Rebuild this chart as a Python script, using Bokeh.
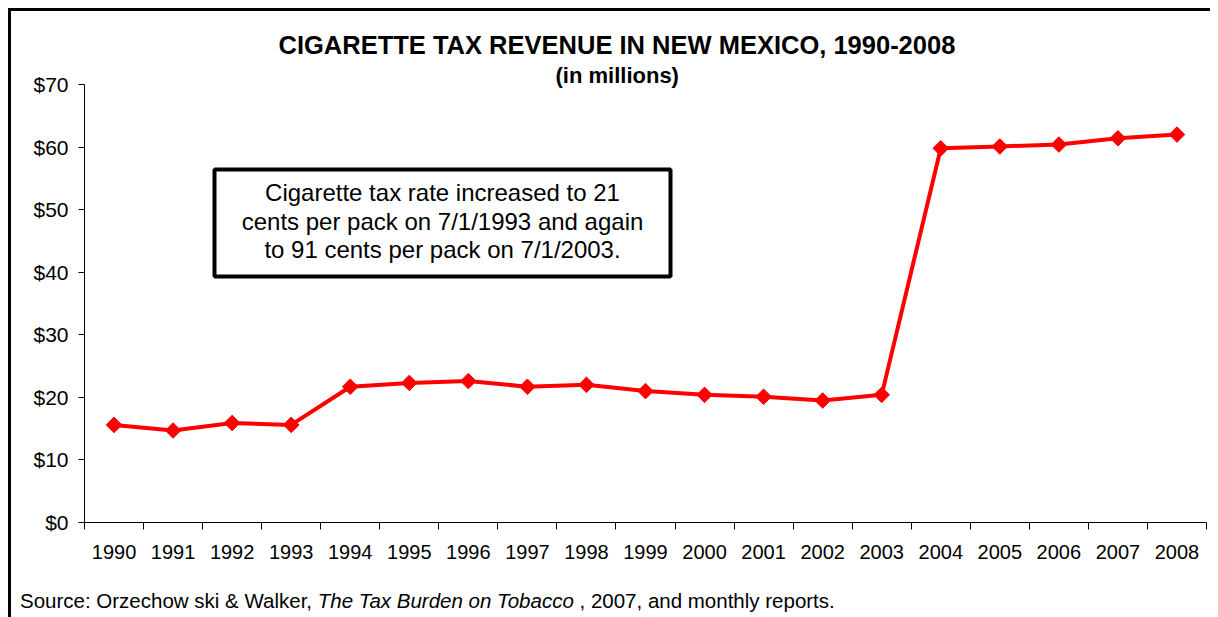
import numpy as np
from bokeh.plotting import figure
from bokeh.models import (Range1d, FixedTicker, PrintfTickFormatter, Label, Title,
                          BoxAnnotation, ColumnDataSource, Div)
from bokeh.layouts import column
from bokeh.embed import file_html
from bokeh.resources import INLINE

# ---- data ----
years = [1990, 1991, 1992, 1993, 1994, 1995, 1996, 1997, 1998, 1999,
         2000, 2001, 2002, 2003, 2004, 2005, 2006, 2007, 2008]
revenue = [15.6, 14.7, 15.9, 15.6, 21.7, 22.3, 22.6, 21.7, 22.0, 21.0,
           20.4, 20.1, 19.5, 20.4, 59.8, 60.1, 60.4, 61.4, 62.0]
y_ticks = [0, 10, 20, 30, 40, 50, 60, 70]
title_text = "CIGARETTE TAX REVENUE IN NEW MEXICO, 1990-2008"
subtitle_text = "(in millions)"
note_lines = ["Cigarette tax rate increased to 21",
              "cents per pack on 7/1/1993 and again",
              "to 91 cents per pack on 7/1/2003."]
source_plain = "Source: Orzechow ski &amp; Walker, "
source_italic = "The Tax Burden on Tobacco"
source_tail = " , 2007, and monthly reports."

FONT = "Liberation Sans"

src = ColumnDataSource(dict(year=years, rev=revenue))

p = figure(width=1199, height=566, output_backend="svg", toolbar_location=None,
           x_range=Range1d(years[0] - 0.5, years[-1] + 0.5),
           y_range=Range1d(0, 70),
           min_border_left=73, min_border_right=4, min_border_top=73,
           min_border_bottom=55)
p.outline_line_color = None
p.xgrid.visible = False
p.ygrid.visible = False
p.background_fill_color = "white"
p.border_fill_color = "white"

# x axis: labels at year centres, ticks at boundaries
xa = p.xaxis[0]
xa.ticker = FixedTicker(ticks=years, minor_ticks=[y - 0.5 for y in years] + [years[-1] + 0.5])
xa.major_label_overrides = {y: str(y) for y in years}
xa.major_tick_in = 0
xa.major_tick_out = 0
xa.minor_tick_in = 0
xa.minor_tick_out = 7
xa.minor_tick_line_color = "black"
xa.axis_line_color = "black"
xa.major_label_text_font = FONT
xa.major_label_text_font_size = "20px"
xa.major_label_text_color = "black"
xa.major_label_standoff = 15

ya = p.yaxis[0]
ya.ticker = FixedTicker(ticks=y_ticks)
ya.formatter = PrintfTickFormatter(format="$%d")
ya.major_tick_in = 0
ya.major_tick_out = 6
ya.minor_tick_line_color = None
ya.axis_line_color = "black"
ya.major_label_text_font = FONT
ya.major_label_text_font_size = "21px"
ya.major_label_text_color = "black"
ya.major_label_standoff = 10

p.line("year", "rev", source=src, line_color="#FF0000", line_width=4)
p.scatter("year", "rev", source=src, marker="square", angle=np.pi / 4, size=11,
          fill_color="#FF0000", line_color="#FF0000")

# annotation box
box = BoxAnnotation(left=130, right=586, top=353, bottom=246,
                    left_units="screen", right_units="screen",
                    top_units="screen", bottom_units="screen",
                    fill_color="white", fill_alpha=1.0,
                    line_color="black", line_alpha=1.0, line_width=4, level="overlay")
p.add_layout(box)
for i, ln in enumerate(note_lines):
    p.add_layout(Label(x=358, y=330 - i * 28.5, x_units="screen", y_units="screen",
                       text=ln, text_align="center", text_baseline="middle",
                       text_font=FONT, text_font_size="24px",
                       text_color="black", level="overlay"))

# titles (subtitle added first so it sits closer to the plot)
p.add_layout(Title(text=subtitle_text, align="left", offset=471, standoff=-6,
                   text_font=FONT, text_font_size="22px", text_font_style="bold",
                   text_color="black"), "above")
p.add_layout(Title(text=title_text, align="left", offset=194, standoff=10,
                   text_font=FONT, text_font_size="25.5px", text_font_style="bold",
                   text_color="black"), "above")

source_div = Div(text=f"{source_plain}<i>{source_italic}</i>{source_tail}",
                 width=1100, height=34,
                 styles={"font-family": FONT, "font-size": "20.5px", "color": "black",
                         "padding-left": "4px", "padding-top": "4px",
                         "white-space": "nowrap"})

layout = column(p, source_div, margin=(8, 0, 0, 8),
                styles={"border-top": "3px solid black", "border-left": "3px solid black"})

open("out.html", "w").write(file_html(layout, INLINE))
